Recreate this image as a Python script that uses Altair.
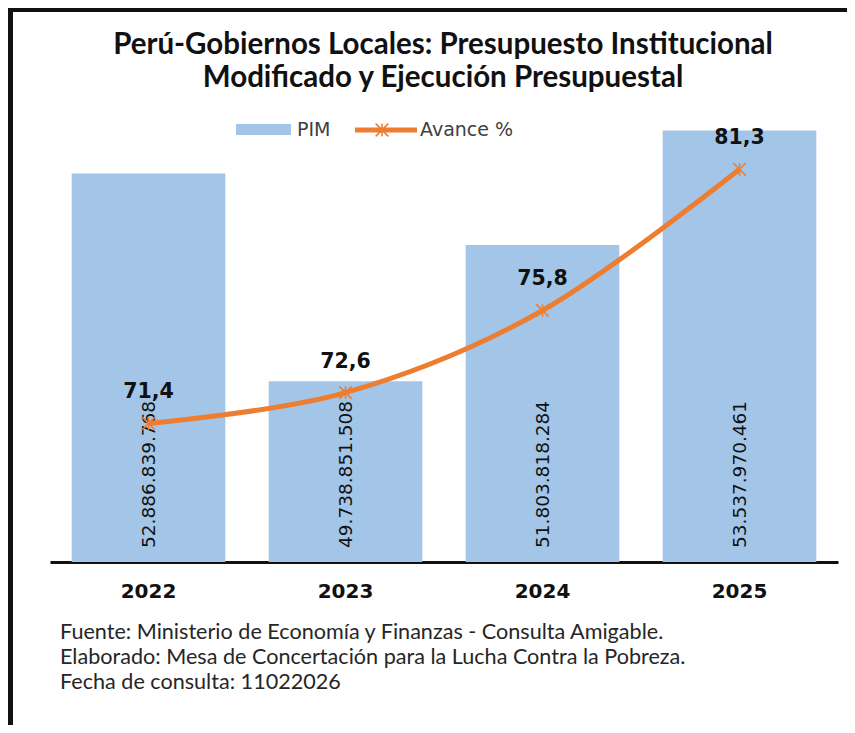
import altair as alt
import pandas as pd

years = ["2022", "2023", "2024", "2025"]
pim = [52886839768, 49738851508, 51803818284, 53537970461]
avance = [71.4, 72.6, 75.8, 81.3]

title_lines = ["Perú-Gobiernos Locales: Presupuesto Institucional",
               "Modificado y Ejecución Presupuestal"]
footer_lines = ["Fuente: Ministerio de Economía y Finanzas - Consulta Amigable.",
                "Elaborado: Mesa de Concertación para la Lucha Contra la Pobreza.",
                "Fecha de consulta: 11022026"]
legend_labels = ["PIM", "Avance %"]

W, H = 788, 462
BAR = "#A3C6E8"
ORANGE = "#ED7D31"

df = pd.DataFrame({
    "year": years,
    "pim": pim,
    "avance": avance,
    "pim_lbl": [f"{v:,}".replace(",", ".") for v in pim],
    "av_lbl": [f"{v:.1f}".replace(".", ",") for v in avance],
})

xs = alt.Scale(paddingInner=0.22, paddingOuter=0.11)
X = alt.X("year:N", scale=xs, sort=years,
          axis=alt.Axis(title=None, labelAngle=0, labelFont="DejaVu Sans",
                        labelFontWeight="bold", labelFontSize=20, labelColor="#111",
                        labelPadding=19, ticks=False, tickSize=0, grid=False,
                        domainColor="#111", domainWidth=3))

ybar = alt.Y("pim:Q", scale=alt.Scale(domain=[47e9, 54e9], zero=False), axis=None)
yline = alt.Y("avance:Q", scale=alt.Scale(domain=[66, 84], zero=False), axis=None)

base = alt.Chart(df)
bars = base.mark_bar(color=BAR).encode(x=X, y=ybar, y2=alt.datum(47e9))
bar_txt = base.mark_text(angle=270, align="left", baseline="middle",
                         font="DejaVu Sans", fontSize=18.5, color="#111").encode(
    x=X, y=alt.value(H - 14), text="pim_lbl:N")
bar_layer = alt.layer(bars, bar_txt)

line = base.mark_line(interpolate="cardinal", color=ORANGE, strokeWidth=5).encode(x=X, y=yline)
pts = base.mark_point(shape="M-1,-1L1,1M-1,1L1,-1M0,-1L0,1", filled=False,
                      color=ORANGE, strokeWidth=1.6, size=160, opacity=1).encode(x=X, y=yline)
av_txt = base.mark_text(dy=-31, baseline="middle", font="DejaVu Sans", fontWeight="bold",
                        fontSize=20.5, color="#111").encode(x=X, y=yline, text="av_lbl:N")
line_layer = alt.layer(line, pts, av_txt)


def txt(s, x, y, **kw):
    return alt.Chart(pd.DataFrame({"t": [s]})).mark_text(**kw).encode(
        text="t:N", x=alt.value(x), y=alt.value(y))


def one():
    return alt.Chart(pd.DataFrame({"k": [0]}))


def box(x1, x2, y1, y2, color):
    return one().mark_rect(color=color).encode(
        x=alt.value(x1), x2=alt.value(x2), y=alt.value(y1), y2=alt.value(y2))


deco = []
# frame
deco.append(box(-42, -37, -92, H + 200, "#111"))
deco.append(box(-42, W + 20, -92, -88, "#111"))
# title
for i, s in enumerate(title_lines):
    deco.append(txt(s, 393, -55 + 33 * i, font="Lato", fontWeight="bold", fontSize=29.5,
                    color="#111", align="center", baseline="middle"))
# footer
for i, s in enumerate(footer_lines):
    deco.append(txt(s, 10, 533 + 25 * i, font="Lato", fontSize=21.6,
                    color="#262626", align="left", baseline="middle"))
# legend
deco.append(box(186, 241, 24, 35, BAR))
deco.append(txt(legend_labels[0], 247, 30, font="DejaVu Sans", fontSize=19,
                color="#404040", align="left", baseline="middle"))
deco.append(box(305, 367, 27.5, 32.5, ORANGE))
deco.append(one().mark_point(shape="M-1,-1L1,1M-1,1L1,-1M0,-1L0,1", filled=False,
                             color=ORANGE, strokeWidth=1.6, size=160, opacity=1).encode(
    x=alt.value(332), y=alt.value(30)))
deco.append(txt(legend_labels[1], 370, 30, font="DejaVu Sans", fontSize=19,
                color="#404040", align="left", baseline="middle"))

chart = alt.layer(bar_layer, line_layer, *deco).resolve_scale(y="independent").properties(
    width=W, height=H,
    background="white",
    autosize=alt.AutoSizeParams(type="none"),
    padding={"left": 42, "top": 92, "right": 9, "bottom": 163},
).configure_view(stroke=None)

chart.save("out.html", embed_options={"renderer": "svg", "actions": False})
